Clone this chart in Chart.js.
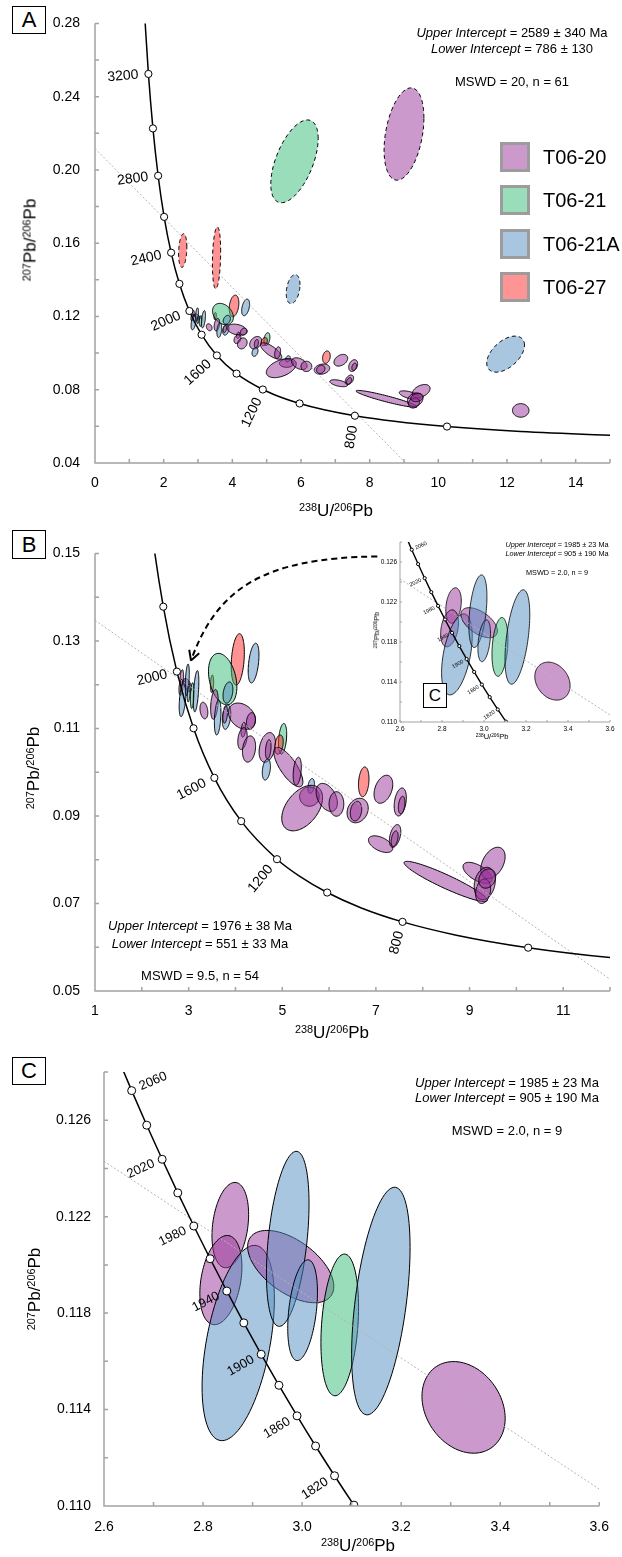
<!DOCTYPE html>
<html>
<head>
<meta charset="utf-8">
<title>U-Pb concordia plots</title>
<script src="https://cdn.jsdelivr.net/npm/chart.js@4.4.1/dist/chart.umd.min.js"></script>
<style>
  body { margin: 0; background: #fff; }
  #page { position: relative; width: 622px; height: 1557px; overflow: hidden; font-family: "Liberation Sans", Arial, sans-serif; color: #000; }
  #page canvas { position: absolute; }
  .t { position: absolute; white-space: nowrap; transform: translate(-50%, -50%); line-height: 1; z-index: 5; }
  .t sup { font-size: 0.64em; vertical-align: 0; position: relative; top: -0.5em; }
  .ax { font-size: 17px; }
  .v { transform: translate(-50%, -50%) rotate(-90deg); }
  .note { font-size: 13px; }
  .box { position: absolute; border: 1.5px solid #000; box-sizing: border-box; display: flex; align-items: center; justify-content: center; font-size: 22px; background: #fff; z-index: 5; }
  .sw { position: absolute; width: 30px; height: 30px; box-sizing: border-box; border: 3px solid #9c9c9c; z-index: 5; }
  .lg { position: absolute; font-size: 20px; transform: translateY(-50%); line-height: 1; z-index: 5; }
</style>
</head>
<body>
<div id="page">
  <canvas id="chartA" width="622" height="530" style="left:0;top:0"></canvas>
  <canvas id="chartB" width="622" height="510" style="left:0;top:530px"></canvas>
  <canvas id="chartInset" width="272" height="215" style="left:350px;top:530px"></canvas>
  <canvas id="chartC" width="622" height="517" style="left:0;top:1040px"></canvas>

  <!-- panel A -->
  <div class="box" style="left:12px;top:6px;width:34px;height:28px">A</div>
  <div class="t ax v" style="left:30px;top:240px"><sup>207</sup>Pb/<sup>206</sup>Pb</div>
  <div class="t ax" style="left:336px;top:510px"><sup>238</sup>U/<sup>206</sup>Pb</div>
  <div class="t note" style="left:512px;top:32px"><i>Upper Intercept</i> = 2589 ± 340 Ma</div>
  <div class="t note" style="left:512px;top:48px"><i>Lower Intercept</i> = 786 ± 130</div>
  <div class="t note" style="left:512px;top:81px">MSWD = 20, n = 61</div>
  <div id="legend"></div>

  <!-- panel B -->
  <div class="box" style="left:12px;top:530px;width:34px;height:29px">B</div>
  <div class="t ax v" style="left:33px;top:768px"><sup>207</sup>Pb/<sup>206</sup>Pb</div>
  <div class="t ax" style="left:332px;top:1032px"><sup>238</sup>U/<sup>206</sup>Pb</div>
  <div class="t note" style="left:200px;top:925px"><i>Upper Intercept</i> = 1976 ± 38 Ma</div>
  <div class="t note" style="left:200px;top:943px"><i>Lower Intercept</i> = 551 ± 33 Ma</div>
  <div class="t note" style="left:200px;top:975px">MSWD = 9.5, n = 54</div>

  <!-- inset of C inside B -->
  <div class="t" style="left:377px;top:630px;font-size:7.5px;transform:translate(-50%,-50%) rotate(-90deg)"><sup>207</sup>Pb/<sup>206</sup>Pb</div>
  <div class="t" style="left:492px;top:737px;font-size:7.5px"><sup>238</sup>U/<sup>206</sup>Pb</div>
  <div class="t" style="left:557px;top:545px;font-size:7.3px"><i>Upper Intercept</i> = 1985 ± 23 Ma</div>
  <div class="t" style="left:557px;top:554px;font-size:7.3px"><i>Lower Intercept</i> = 905 ± 190 Ma</div>
  <div class="t" style="left:557px;top:573px;font-size:7.3px">MSWD = 2.0, n = 9</div>
  <div class="box" style="left:423px;top:683px;width:24px;height:25px;font-size:17px;border-width:1.3px">C</div>

  <!-- panel C -->
  <div class="box" style="left:12px;top:1057px;width:34px;height:28px">C</div>
  <div class="t ax v" style="left:34px;top:1289px"><sup>207</sup>Pb/<sup>206</sup>Pb</div>
  <div class="t ax" style="left:358px;top:1545px"><sup>238</sup>U/<sup>206</sup>Pb</div>
  <div class="t note" style="left:507px;top:1082px"><i>Upper Intercept</i> = 1985 ± 23 Ma</div>
  <div class="t note" style="left:507px;top:1097px"><i>Lower Intercept</i> = 905 ± 190 Ma</div>
  <div class="t note" style="left:507px;top:1130px">MSWD = 2.0, n = 9</div>
</div>

<script>
// ---------- data ----------
const SAMPLES = ['T06-20', 'T06-21', 'T06-21A', 'T06-27'];

// concordia markers (Ma) for panels A and B
const AGES = [3200, 3000, 2800, 2600, 2400, 2200, 2000, 1800, 1600, 1400, 1200, 1000, 800, 600];
const AGE_X = [1.5557, 1.6874, 1.8384, 2.0129, 2.2170, 2.4586, 2.7490, 3.1046, 3.5497, 4.1227, 4.8875, 5.9594, 7.5684, 10.2518];
const AGE_Y = [0.25242, 0.22266, 0.19682, 0.17437, 0.15483, 0.13782, 0.12299, 0.11004, 0.09872, 0.08881, 0.08012, 0.07250, 0.06580, 0.05990];
const LABELS_A = [3200, 2800, 2400, 2000, 1600, 1200, 800];
const LABELS_B = [2000, 1600, 1200, 800];

// concordia curve, 3400 Ma down to 400 Ma
const CURVE_X = [1.4398, 1.5557, 1.6874, 1.8384, 2.0129, 2.2170, 2.4586, 2.7490, 3.1046, 3.5497, 4.1227, 4.8875, 5.3746, 5.9594, 6.6743, 7.5684, 8.7182, 10.2518, 12.3993, 15.6212];
const CURVE_Y = [0.28674, 0.25242, 0.22266, 0.19682, 0.17437, 0.15483, 0.13782, 0.12299, 0.11004, 0.09872, 0.08881, 0.08012, 0.07619, 0.07250, 0.06904, 0.06580, 0.06276, 0.05990, 0.05722, 0.05470];

// concordia markers for panel C (20 Ma steps)
const AGES_C = [2060, 2040, 2020, 2000, 1980, 1960, 1940, 1920, 1900, 1880, 1860, 1840, 1820, 1800];
const AGE_X_C = [2.6559, 2.6863, 2.7174, 2.7490, 2.7813, 2.8143, 2.8479, 2.8823, 2.9174, 2.9532, 2.9898, 3.0272, 3.0655, 3.1046];
const AGE_Y_C = [0.127227, 0.125794, 0.124381, 0.122987, 0.121611, 0.120255, 0.118916, 0.117595, 0.116293, 0.115007, 0.113739, 0.112488, 0.111254, 0.110036];
const LABELS_C = [2060, 2020, 1980, 1940, 1900, 1860, 1820];
const CURVE_X_C = [2.6261, 2.6559, 2.6863, 2.7174, 2.7490, 2.7813, 2.8143, 2.8479, 2.8823, 2.9174, 2.9532, 2.9898, 3.0272, 3.0655, 3.1046, 3.1446];
const CURVE_Y_C = [0.128679, 0.127227, 0.125794, 0.124381, 0.122987, 0.121611, 0.120255, 0.118916, 0.117595, 0.116293, 0.115007, 0.113739, 0.112488, 0.111254, 0.110036, 0.108834];

// discordia lines (end points)
const DISC_A_X = [0, 9.05], DISC_A_Y = [0.2117, 0.04];
const DISC_B_X = [1, 12], DISC_B_Y = [0.1347, 0.0527];
const DISC_C_X = [2.6, 3.6], DISC_C_Y = [0.1243, 0.1107];

// error ellipses: [238U/206Pb, 207Pb/206Pb, sigma x, sigma y, rho, sample index]
const ELL_C = [
  [2.855, 0.12165, 0.037, 0.00177, 0.25, 0],
  [2.836, 0.11937, 0.0425, 0.00185, 0.3, 0],
  [2.871, 0.11676, 0.073, 0.00405, 0.45, 2],
  [2.977, 0.11993, 0.087, 0.0015, -0.55, 0],
  [2.971, 0.12108, 0.043, 0.00363, 0.4, 2],
  [3.001, 0.11812, 0.030, 0.00209, 0.36, 2],
  [3.076, 0.11751, 0.038, 0.00294, 0.25, 1],
  [3.159, 0.11850, 0.059, 0.00472, 0.47, 2],
  [3.326, 0.11409, 0.084, 0.0019, -0.24, 0]
];
const ELL_B = [
  [4.05, 0.12577, 0.14, 0.00588, 0.26, 3],
  [4.387, 0.12494, 0.115, 0.00454, 0.4, 2],
  [3.50, 0.1202, 0.035, 0.002, 0.2, 3],
  [3.727, 0.12127, 0.303, 0.00588, -0.3, 1],
  [3.84, 0.11819, 0.105, 0.00243, 0.3, 2],
  [3.55, 0.1155, 0.08, 0.0034, 0.3, 0],
  [3.62, 0.1125, 0.07, 0.0040, 0.3, 2],
  [3.81, 0.1126, 0.09, 0.0028, 0.3, 2],
  [3.78, 0.1132, 0.05, 0.002, 0.3, 0],
  [4.14, 0.1128, 0.29, 0.003, -0.3, 0],
  [4.33, 0.1117, 0.095, 0.0019, 0.2, 0],
  [4.17, 0.1097, 0.05, 0.0017, 0.3, 0],
  [4.15, 0.1077, 0.10, 0.0025, 0.3, 0],
  [4.29, 0.1053, 0.14, 0.003, 0.2, 0],
  [4.68, 0.10566, 0.175, 0.0034, 0.3, 0],
  [4.70, 0.10525, 0.06, 0.0022, 0.3, 0],
  [4.66, 0.1006, 0.087, 0.0024, 0.3, 2],
  [5.007, 0.10765, 0.087, 0.0035, 0.3, 1],
  [4.93, 0.1063, 0.09, 0.0022, 0.3, 3],
  [5.13, 0.10116, 0.31, 0.0045, -0.75, 0],
  [5.32, 0.10022, 0.087, 0.0032, 0.3, 0],
  [5.617, 0.09685, 0.07, 0.0017, 0.3, 2],
  [5.58, 0.09442, 0.21, 0.0022, 0, 0],
  [5.425, 0.0918, 0.436, 0.0052, 0.45, 0],
  [5.95, 0.09424, 0.227, 0.0032, -0.4, 0],
  [6.157, 0.09274, 0.157, 0.0028, 0, 0],
  [6.61, 0.09124, 0.226, 0.0028, 0.2, 0],
  [6.575, 0.0911, 0.122, 0.00225, 0.2, 0],
  [6.74, 0.0978, 0.112, 0.0034, 0.2, 3],
  [7.16, 0.0961, 0.2, 0.0032, 0.35, 0],
  [7.52, 0.0932, 0.13, 0.0032, 0.3, 0],
  [7.55, 0.0925, 0.07, 0.002, 0.3, 0],
  [7.10, 0.08356, 0.26, 0.0019, -0.5, 0],
  [7.41, 0.08543, 0.122, 0.0026, 0.4, 0],
  [7.40, 0.0848, 0.075, 0.0018, 0.4, 0],
  [8.49, 0.07503, 0.888, 0.0046, -0.93, 0],
  [9.17, 0.077, 0.31, 0.0024, -0.6, 0],
  [9.5, 0.07925, 0.26, 0.0036, 0.4, 0],
  [9.325, 0.07457, 0.225, 0.0037, 0.2, 0],
  [9.29, 0.0728, 0.16, 0.0028, 0.2, 0],
  [9.378, 0.0757, 0.18, 0.0022, 0.2, 0]
];
// only in panel A
const ELL_A_EXTRA = [
  [12.4, 0.0687, 0.24, 0.0037, 0, 0]
];
const ELL_A_REJECTED = [
  [2.555, 0.156, 0.12, 0.0092, 0.2, 3],
  [3.54, 0.152, 0.12, 0.0169, 0.2, 3],
  [5.81, 0.2047, 0.69, 0.0226, 0.55, 1],
  [9.0, 0.2196, 0.58, 0.0252, 0.35, 0],
  [5.77, 0.13493, 0.2, 0.00794, 0.3, 2],
  [11.96, 0.09943, 0.55, 0.00984, 0.5, 2]
];

// ---------- styling ----------
const FILL = ['rgba(153,51,153,0.5)', 'rgba(51,187,119,0.5)', 'rgba(83,141,193,0.5)', 'rgba(255,40,40,0.5)'];
const SWATCH = ['#cc99cc', '#99ddbb', '#a9c6e0', '#ff9494'];
const AXIS = '#a3a3a3';
const FONT = 'Liberation Sans';

// legend (panel A)
document.getElementById('legend').innerHTML = SAMPLES.map((s, i) => `
  <div class="sw" style="left:500px;top:${142 + i * 43.3}px;background:${SWATCH[i]}"></div>
  <div class="lg" style="left:543px;top:${157 + i * 43.3}px">${s}</div>`).join('');

function pts(xs, ys) {
  return xs.map((v, i) => ({ x: v, y: ys[i] }));
}

function ellipsePath(ctx, xs, ys, e) {
  const [cx, cy, sx, sy, r] = e;
  const q = Math.sqrt(1 - r * r);
  ctx.beginPath();
  for (let i = 0; i <= 96; i++) {
    const a = i / 96 * Math.PI * 2;
    const px = xs.getPixelForValue(cx + sx * Math.cos(a));
    const py = ys.getPixelForValue(cy + sy * (r * Math.cos(a) + q * Math.sin(a)));
    if (i) ctx.lineTo(px, py); else ctx.moveTo(px, py);
  }
  ctx.closePath();
}

// ellipses under the curves, axes / ticks / age labels on top
function makeDeco(cfg) {
  return {
    id: 'deco',
    beforeDatasetsDraw(chart) {
      const { ctx, chartArea: a, scales: { x, y } } = chart;
      ctx.save();
      ctx.beginPath();
      ctx.rect(a.left, a.top, a.right - a.left, a.bottom - a.top);
      ctx.clip();
      cfg.ellipses.forEach(g => g.rows.forEach(e => {
        ellipsePath(ctx, x, y, e);
        ctx.fillStyle = FILL[e[5]];
        ctx.fill();
        ctx.setLineDash(g.dashed ? [4, 3] : []);
        ctx.lineWidth = cfg.lw;
        ctx.strokeStyle = '#000';
        ctx.stroke();
      }));
      ctx.restore();
    },
    afterDatasetsDraw(chart) {
      const { ctx, chartArea: a, scales: { x, y } } = chart;
      ctx.save();
      // axes and inward tick marks
      ctx.strokeStyle = AXIS;
      ctx.lineWidth = cfg.axisW;
      ctx.beginPath();
      ctx.moveTo(a.left, a.top); ctx.lineTo(a.left, a.bottom); ctx.lineTo(a.right, a.bottom);
      x.ticks.forEach(t => {
        const p = x.getPixelForValue(t.value);
        ctx.moveTo(p, a.bottom); ctx.lineTo(p, a.bottom - cfg.tickLen);
      });
      y.ticks.forEach(t => {
        const p = y.getPixelForValue(t.value);
        ctx.moveTo(a.left, p); ctx.lineTo(a.left + cfg.tickLen, p);
      });
      ctx.stroke();

      // concordia age labels, perpendicular to the curve
      const L = cfg.labels;
      ctx.font = L.font;
      ctx.fillStyle = '#000';
      ctx.textBaseline = 'middle';
      L.show.forEach(age => {
        const i = L.ages.indexOf(age);
        const j0 = Math.max(i - 1, 0), j1 = Math.min(i + 1, L.ages.length - 1);
        const px = x.getPixelForValue(L.x[i]), py = y.getPixelForValue(L.y[i]);
        let tx = x.getPixelForValue(L.x[j1]) - x.getPixelForValue(L.x[j0]);
        let ty = y.getPixelForValue(L.y[j1]) - y.getPixelForValue(L.y[j0]);
        const len = Math.hypot(tx, ty);
        tx /= len; ty /= len;
        let nx = -ty, ny = tx;
        if (ny - nx < 0) { nx = -nx; ny = -ny; }
        const side = L.flip.includes(age) ? -1 : 1;
        ctx.save();
        ctx.translate(px + nx * L.gap * side, py + ny * L.gap * side);
        ctx.rotate(Math.atan2(-ny, -nx));
        ctx.textAlign = side > 0 ? 'right' : 'left';
        ctx.fillText(String(age), 0, 0);
        ctx.restore();
      });

      // dashed arrow from the inset (panel B)
      if (cfg.arrow) {
        const P = cfg.arrow.x.map((v, i) => [x.getPixelForValue(v), y.getPixelForValue(cfg.arrow.y[i])]);
        ctx.strokeStyle = '#000';
        ctx.lineWidth = 2;
        ctx.setLineDash([6, 4]);
        ctx.beginPath();
        ctx.moveTo(P[0][0], P[0][1]);
        ctx.bezierCurveTo(P[1][0], P[1][1], P[2][0], P[2][1], P[3][0], P[3][1]);
        ctx.stroke();
        ctx.setLineDash([]);
        const ang = Math.atan2(P[3][1] - P[2][1], P[3][0] - P[2][0]);
        ctx.beginPath();
        [0.5, -0.5].forEach(d => {
          ctx.moveTo(P[3][0], P[3][1]);
          ctx.lineTo(P[3][0] - 11 * Math.cos(ang + d), P[3][1] - 11 * Math.sin(ang + d));
        });
        ctx.stroke();
      }
      ctx.restore();
    }
  };
}

function tickFmt(start, step, every, digits) {
  return v => (Math.round((v - start) / step) % every === 0 ? Number(v).toFixed(digits) : '');
}

function makeChart(id, p) {
  const datasets = [
    { data: pts(p.mx, p.my), pointRadius: p.r, pointBackgroundColor: '#fff', pointBorderColor: '#000', pointBorderWidth: 1, order: 0 },
    { data: pts(p.cx, p.cy), showLine: true, borderColor: '#000', borderWidth: p.cw, pointRadius: 0, cubicInterpolationMode: 'monotone', order: 1 },
    { data: pts(p.dx, p.dy), showLine: true, borderColor: '#b4b4b4', borderWidth: 1, borderDash: [2, 2], pointRadius: 0, order: 2 }
  ];
  return new Chart(document.getElementById(id), {
    type: 'scatter',
    data: { datasets },
    options: {
      responsive: false,
      animation: false,
      devicePixelRatio: 1,
      events: [],
      layout: { autoPadding: false, padding: { left: 0, top: p.top, right: p.right, bottom: 0 } },
      plugins: { legend: { display: false }, tooltip: { enabled: false } },
      scales: {
        x: {
          type: 'linear', min: p.xr[0], max: p.xr[1],
          grid: { display: false, drawTicks: false }, border: { display: false },
          ticks: { stepSize: p.xt[0], autoSkip: false, maxRotation: 0, padding: p.xpad, color: '#000',
                   font: { family: FONT, size: p.fs }, callback: tickFmt(p.xr[0], p.xt[0], p.xt[1], p.xt[2]) },
          afterFit: s => { s.height = p.xh; }
        },
        y: {
          type: 'linear', min: p.yr[0], max: p.yr[1],
          grid: { display: false, drawTicks: false }, border: { display: false },
          ticks: { stepSize: p.yt[0], autoSkip: false, padding: p.ypad, color: '#000',
                   font: { family: FONT, size: p.fs }, callback: tickFmt(p.yr[0], p.yt[0], p.yt[1], p.yt[2]) },
          afterFit: s => { s.width = p.yw; }
        }
      }
    },
    plugins: [makeDeco(p.deco)]
  });
}

// panel A
makeChart('chartA', {
  mx: AGE_X, my: AGE_Y, cx: CURVE_X, cy: CURVE_Y, dx: DISC_A_X, dy: DISC_A_Y, r: 3.6, cw: 1.5,
  xr: [0, 15], yr: [0.04, 0.28], xt: [1, 2, 0], yt: [0.02, 2, 2],
  top: 21, right: 5, xh: 67, yw: 95, xpad: 12, ypad: 15, fs: 14,
  deco: {
    ellipses: [{ rows: ELL_C }, { rows: ELL_B }, { rows: ELL_A_EXTRA }, { rows: ELL_A_REJECTED, dashed: true }],
    lw: 1, axisW: 1.5, tickLen: 4,
    labels: { ages: AGES, x: AGE_X, y: AGE_Y, show: LABELS_A, font: `14px "${FONT}"`, gap: 10, flip: [] }
  }
});

// panel B
makeChart('chartB', {
  mx: AGE_X, my: AGE_Y, cx: CURVE_X, cy: CURVE_Y, dx: DISC_B_X, dy: DISC_B_Y, r: 3.6, cw: 1.5,
  xr: [1, 12], yr: [0.05, 0.15], xt: [1, 2, 0], yt: [0.01, 2, 2],
  top: 16, right: 2, xh: 49, yw: 95, xpad: 12, ypad: 15, fs: 14,
  deco: {
    ellipses: [{ rows: ELL_C }, { rows: ELL_B }],
    lw: 1, axisW: 1.5, tickLen: 4,
    labels: { ages: AGES, x: AGE_X, y: AGE_Y, show: LABELS_B, font: `14px "${FONT}"`, gap: 10, flip: [] },
    arrow: { x: [7.03, 4.6, 3.6, 3.05], y: [0.1493, 0.1490, 0.1420, 0.1255] }
  }
});

// inset (copy of C) inside B
makeChart('chartInset', {
  mx: AGE_X_C, my: AGE_Y_C, cx: CURVE_X_C, cy: CURVE_Y_C, dx: DISC_C_X, dy: DISC_C_Y, r: 1.6, cw: 1.4,
  xr: [2.6, 3.6], yr: [0.110, 0.128], xt: [0.1, 2, 1], yt: [0.002, 2, 3],
  top: 12, right: 12, xh: 23, yw: 50, xpad: 3, ypad: 3, fs: 6.5,
  deco: {
    ellipses: [{ rows: ELL_C }],
    lw: 0.8, axisW: 1, tickLen: 2,
    labels: { ages: AGES_C, x: AGE_X_C, y: AGE_Y_C, show: LABELS_C, font: `5.5px "${FONT}"`, gap: 4, flip: [2060] }
  }
});

// panel C
makeChart('chartC', {
  mx: AGE_X_C, my: AGE_Y_C, cx: CURVE_X_C, cy: CURVE_Y_C, dx: DISC_C_X, dy: DISC_C_Y, r: 4, cw: 1.5,
  xr: [2.6, 3.6], yr: [0.110, 0.128], xt: [0.1, 2, 1], yt: [0.002, 2, 3],
  top: 32, right: 12, xh: 51, yw: 104, xpad: 13, ypad: 13, fs: 14,
  deco: {
    ellipses: [{ rows: ELL_C }],
    lw: 1, axisW: 1.5, tickLen: 4,
    labels: { ages: AGES_C, x: AGE_X_C, y: AGE_Y_C, show: LABELS_C, font: `13px "${FONT}"`, gap: 9, flip: [2060] }
  }
});
</script>
</body>
</html>
